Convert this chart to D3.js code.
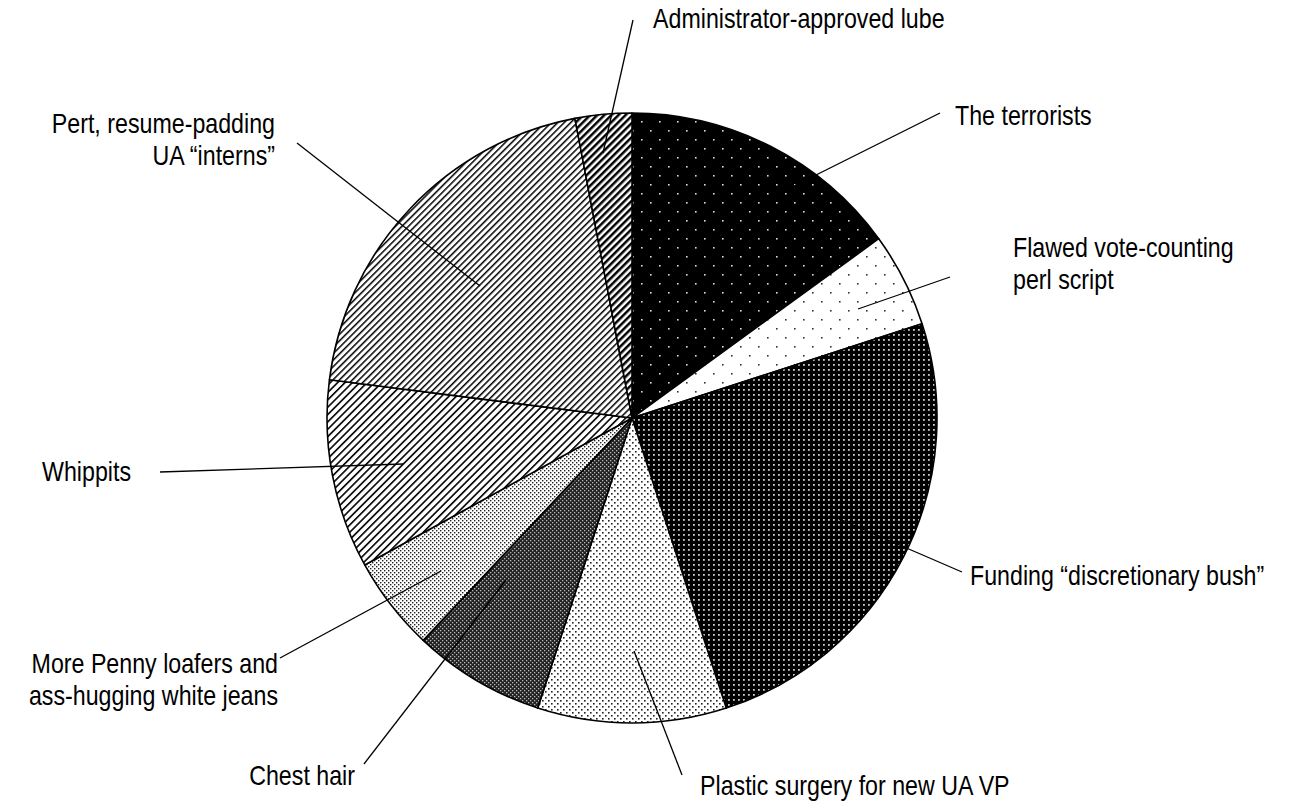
<!DOCTYPE html>
<html>
<head>
<meta charset="utf-8">
<script src="https://cdn.jsdelivr.net/npm/d3@7"></script>
<style>
  body { margin: 0; background: #fff; }
  text { font-family: "Liberation Sans", Arial, sans-serif; font-size: 27px; fill: #000; }
</style>
</head>
<body>
<div id="chart"></div>
<script>
var labels = ["The terrorists", "Flawed vote-counting perl script", "Funding \u201cdiscretionary bush\u201d",
  "Plastic surgery for new UA VP", "Chest hair", "More Penny loafers and ass-hugging white jeans",
  "Whippits", "Pert, resume-padding UA \u201cinterns\u201d", "Administrator-approved lube"];
var shares = [15, 5, 25, 10, 7, 5, 10, 20, 3];
var labelLines = [
  ["The terrorists"],
  ["Flawed vote-counting", "perl script"],
  ["Funding \u201cdiscretionary bush\u201d"],
  ["Plastic surgery for new UA VP"],
  ["Chest hair"],
  ["More Penny loafers and", "ass-hugging white jeans"],
  ["Whippits"],
  ["Pert, resume-padding", "UA \u201cinterns\u201d"],
  ["Administrator-approved lube"]
];
var patternIds = ["pTerr", "pFlaw", "pFund", "pPlas", "pChest", "pPenny", "pWhip", "pPert", "pLube"];

var width = 1314;
var height = 805;
var cx = 632;
var cy = 418;
var radius = 305;
var lineGap = 32;
var squeeze = 0.86; // stands in for the narrow face of the original

// label placement: [textX, baseline, anchor, lineStartX, lineStartY, lineEndX, lineEndY]
var labelPos = [
  [955, 125, "start", 940, 113, 790, 188],
  [1013, 257, "start", 950, 277, 858, 309],
  [970, 585, "start", 962, 572, 830, 515],
  [700, 795, "start", 682, 775, 634, 651],
  [355, 785, "end", 364, 764, 506, 580],
  [278, 673, "end", 280, 658, 441, 571],
  [42, 481, "start", 160, 472, 403, 464],
  [275, 133, "end", 297, 143, 480, 286],
  [653, 28, "start", 633, 20, 603, 153]
];

var svg = d3.select("#chart").append("svg")
  .attr("width", width)
  .attr("height", height);

var defs = svg.append("defs");

function dotPattern(id, size, bg, fg, dots, r) {
  var p = defs.append("pattern")
    .attr("id", id)
    .attr("patternUnits", "userSpaceOnUse")
    .attr("width", size)
    .attr("height", size);
  p.append("rect").attr("width", size).attr("height", size).attr("fill", bg);
  dots.forEach(function(d) {
    p.append("rect")
      .attr("x", d[0]).attr("y", d[1])
      .attr("width", r).attr("height", r)
      .attr("fill", fg);
  });
}

function linePattern(id, gap, w) {
  var p = defs.append("pattern")
    .attr("id", id)
    .attr("patternUnits", "userSpaceOnUse")
    .attr("width", gap)
    .attr("height", gap)
    .attr("patternTransform", "rotate(45)");
  p.append("rect").attr("width", gap).attr("height", gap).attr("fill", "#fff");
  p.append("rect").attr("x", 0).attr("y", 0).attr("width", w).attr("height", gap).attr("fill", "#000");
}

dotPattern("pTerr", 18, "#000", "#ddd", [[0, 0], [9, 9]], 1.6);
dotPattern("pFlaw", 18, "#fff", "#333", [[0, 0], [9, 9]], 1.6);
dotPattern("pFund", 5, "#000", "#ccc", [[1, 1]], 1.8);
dotPattern("pPlas", 6, "#fff", "#222", [[0, 0], [3, 3]], 1.6);
dotPattern("pChest", 4, "#222", "#bbb", [[0, 0], [2, 2]], 1.3);
dotPattern("pPenny", 4, "#fff", "#222", [[0, 0], [2, 2]], 1.4);
linePattern("pWhip", 5.2, 1.6);
linePattern("pPert", 4.6, 1.5);
linePattern("pLube", 5, 2.5);

var pie = d3.pie().sort(null).value(function(d) { return d; });
var arc = d3.arc().innerRadius(0).outerRadius(radius);
var arcs = pie(shares);

var g = svg.append("g").attr("transform", "translate(" + cx + "," + cy + ")");

g.selectAll("path.slice")
  .data(arcs)
  .enter().append("path")
  .attr("class", "slice")
  .attr("d", arc)
  .attr("fill", function(d, i) { return "url(#" + patternIds[i] + ")"; })
  .attr("stroke", "#000")
  .attr("stroke-width", 1.6)
  .attr("stroke-linejoin", "round");

svg.selectAll("line.leader")
  .data(labelPos)
  .enter().append("line")
  .attr("class", "leader")
  .attr("x1", function(d) { return d[3]; })
  .attr("y1", function(d) { return d[4]; })
  .attr("x2", function(d) { return d[5]; })
  .attr("y2", function(d) { return d[6]; })
  .attr("stroke", "#000")
  .attr("stroke-width", 1.3);

var texts = svg.selectAll("text.lbl")
  .data(labelLines)
  .enter().append("text")
  .attr("class", "lbl")
  .attr("text-anchor", function(d, i) { return labelPos[i][2]; })
  .attr("transform", function(d, i) { return "translate(" + labelPos[i][0] + ",0) scale(" + squeeze + ",1)"; })
  .attr("aria-label", function(d, i) { return labels[i]; });

texts.each(function(lines, i) {
  var t = d3.select(this);
  lines.forEach(function(s, j) {
    t.append("tspan")
      .attr("x", 0)
      .attr("y", labelPos[i][1] + j * lineGap)
      .text(s);
  });
});
</script>
</body>
</html>
